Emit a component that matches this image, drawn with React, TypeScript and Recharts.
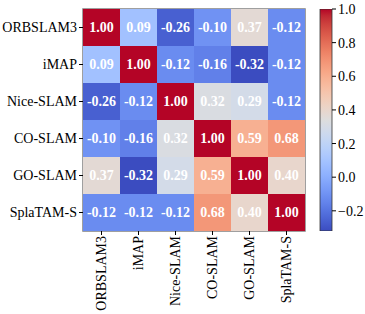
import React from 'react';
import { ScatterChart, Scatter, XAxis, YAxis, ReferenceArea, BarChart, Bar } from 'recharts';

// labels of both axes
const methods = ['ORBSLAM3', 'iMAP', 'Nice-SLAM', 'CO-SLAM', 'GO-SLAM', 'SplaTAM-S'];

// correlation rows
const rowOrbslam = [1.0, 0.09, -0.26, -0.1, 0.37, -0.12];
const rowImap = [0.09, 1.0, -0.12, -0.16, -0.32, -0.12];
const rowNice = [-0.26, -0.12, 1.0, 0.32, 0.29, -0.12];
const rowCo = [-0.1, -0.16, 0.32, 1.0, 0.59, 0.68];
const rowGo = [0.37, -0.32, 0.29, 0.59, 1.0, 0.4];
const rowSplatam = [-0.12, -0.12, -0.12, 0.68, 0.4, 1.0];

const colorbarTicks = [-0.2, 0, 0.2, 0.4, 0.6, 0.8, 1.0];
const vmin = -0.32;
const vmax = 1.0;

const rows = [rowOrbslam, rowImap, rowNice, rowCo, rowGo, rowSplatam];

// coolwarm anchors (Moreland)
const coolwarm: number[][] = [
  [59, 76, 192], [68, 90, 204], [77, 104, 215], [87, 117, 225], [98, 130, 234],
  [108, 142, 241], [119, 154, 247], [130, 165, 251], [141, 176, 254], [152, 185, 255],
  [163, 194, 255], [174, 201, 253], [184, 208, 249], [194, 213, 244], [204, 217, 238],
  [213, 219, 230], [221, 221, 221], [229, 216, 209], [236, 211, 197], [241, 204, 184],
  [245, 196, 172], [247, 187, 159], [247, 177, 147], [247, 166, 134], [244, 154, 123],
  [241, 141, 111], [236, 127, 99], [229, 112, 89], [222, 96, 78], [213, 80, 69],
  [203, 62, 60], [192, 40, 51], [180, 4, 38],
];

const cmap = (s: number) => {
  const t = Math.max(0, Math.min(1, s)) * (coolwarm.length - 1);
  const i = Math.min(Math.floor(t), coolwarm.length - 2);
  const f = t - i;
  const c = coolwarm[i].map((a, k) => Math.round(a + (coolwarm[i + 1][k] - a) * f));
  return `rgb(${c[0]},${c[1]},${c[2]})`;
};

const colorOf = (v: number) => cmap((v - vmin) / (vmax - vmin));

const cells = rows.flatMap((row, r) =>
  row.map((v, c) => ({ x: c + 0.5, y: r + 0.5, v }))
);

const positions = methods.map((_, i) => i + 0.5);
const FONT = 'Liberation Serif, serif';
const CELL = 222 / 6;

const CellShape = (props: any) => {
  const { cx, cy, payload } = props;
  return (
    <g>
      <rect x={cx - CELL / 2} y={cy - CELL / 2} width={CELL} height={CELL} fill={colorOf(payload.v)} />
      <text x={cx} y={cy} textAnchor="middle" dy="0.35em" fill="#fff"
        style={{ fontFamily: FONT, fontWeight: 'bold', fontSize: 14 }}>
        {payload.v.toFixed(2)}
      </text>
    </g>
  );
};

const XTick = (props: any) => {
  const { x, y, payload } = props;
  return (
    <text x={x} y={y} transform={`rotate(-90, ${x}, ${y})`} textAnchor="end" dy="0.35em"
      fill="#000" style={{ fontFamily: FONT, fontSize: 14 }}>
      {methods[Math.round(payload.value - 0.5)]}
    </text>
  );
};

const gradStops = coolwarm.map((_, i) => {
  const s = 1 - i / (coolwarm.length - 1);
  return { offset: `${(i / (coolwarm.length - 1)) * 100}%`, color: cmap(s) };
});

const colorbarData = [{ name: 'cb', range: [vmin, vmax] }];

export default function App() {
  return (
    <div style={{ position: 'fixed', left: 0, top: 0, width: 365, height: 314, background: '#fff', fontFamily: FONT }}>
      <div style={{ position: 'absolute', left: 0, top: 0 }}>
        <ScatterChart width={320} height={314} margin={{ top: 9, right: 15, bottom: 0, left: 0 }}>
          <XAxis type="number" dataKey="x" domain={[0, 6]} ticks={positions} interval={0}
            height={83} tick={<XTick />} tickSize={4} tickMargin={1} axisLine={false}
            tickLine={{ stroke: '#000' }} />
          <YAxis type="number" dataKey="y" domain={[0, 6]} reversed ticks={positions} interval={0}
            width={83} tickSize={4} tickMargin={2} axisLine={false} tickLine={{ stroke: '#000' }}
            tickFormatter={(v: number) => methods[Math.round(v - 0.5)]}
            tick={{ fontFamily: FONT, fontSize: 14, fill: '#000' }} />
          <Scatter data={cells} shape={<CellShape />} isAnimationActive={false} />
          <ReferenceArea x1={0} x2={6} y1={0} y2={6} fill="none" fillOpacity={0}
            stroke="#808080" strokeWidth={1.5} ifOverflow="visible" />
        </ScatterChart>
      </div>
      <div style={{ position: 'absolute', left: 300, top: 0 }}>
        <BarChart width={65} height={314} data={colorbarData} barCategoryGap={0}
          margin={{ top: 9, right: 0, bottom: 83, left: 20 }}>
          <defs>
            <linearGradient id="cbGrad" x1="0" y1="0" x2="0" y2="1">
              {gradStops.map((g, i) => (
                <stop key={i} offset={g.offset} stopColor={g.color} />
              ))}
            </linearGradient>
          </defs>
          <XAxis dataKey="name" hide />
          <YAxis orientation="right" type="number" domain={[vmin, vmax]} allowDataOverflow
            ticks={colorbarTicks} interval={0} width={33} tickSize={4} tickMargin={2}
            axisLine={false} tickLine={{ stroke: '#000' }}
            tickFormatter={(v: number) => (v < 0 ? '\u2212' + Math.abs(v).toFixed(1) : v.toFixed(1))}
            tick={{ fontFamily: FONT, fontSize: 14, fill: '#000', textAnchor: 'start' }} />
          <Bar dataKey="range" fill="url(#cbGrad)" stroke="#333" strokeWidth={0.8} isAnimationActive={false} />
        </BarChart>
      </div>
    </div>
  );
}
